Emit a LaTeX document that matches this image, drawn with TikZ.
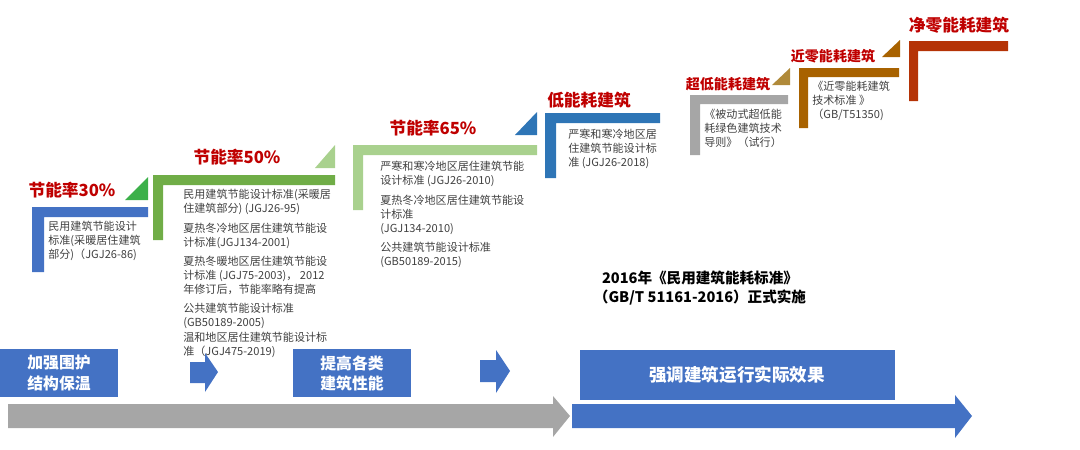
\documentclass[tikz,border=0pt]{standalone}
\usepackage{fontspec}
\setmainfont{Noto Sans CJK SC}
\begin{document}
\begin{tikzpicture}[x=0.02cm,y=-0.02cm,
  head/.style={text=red!75!black,font=\fontsize{9.5}{11}\selectfont\bfseries,inner sep=0},
  shead/.style={head,font=\fontsize{8}{10}\selectfont\bfseries},
  body/.style={text=black!75,font=\fontsize{6.3}{8}\selectfont,align=left,anchor=north west,inner sep=0},
  bbox/.style={fill=bl,text=white,font=\fontsize{9}{11.5}\selectfont\bfseries,align=center,inner sep=0}]
\useasboundingbox (0,0) rectangle (1080,450);
\definecolor{bl}{HTML}{4472C4}
\definecolor{bl2}{HTML}{2E75B6}
\definecolor{gr}{HTML}{70AD47}
\definecolor{lg}{HTML}{A9D18E}
\definecolor{dg}{HTML}{3CB04A}
\definecolor{gy}{HTML}{A6A6A6}
\definecolor{gd}{HTML}{B08A3A}
\definecolor{br}{HTML}{A86200}
\definecolor{rd}{HTML}{B53306}
% L shapes
\fill[bl] (32,207) rectangle (148,217) (32,207) rectangle (44,272);
\fill[dg] (125,200) -- (148,200) -- (148,177) -- cycle;
\fill[gr] (153,175) rectangle (335,185) (153,175) rectangle (163,240);
\fill[lg] (315,168) -- (335,168) -- (335,145) -- cycle;
\fill[lg] (353,145) rectangle (537,155) (353,145) rectangle (363,210);
\fill[bl2] (515,135) -- (537,135) -- (537,112) -- cycle;
\fill[bl2] (545,113) rectangle (660,123) (545,113) rectangle (556,178);
\fill[gy] (690,95) rectangle (788,104) (690,95) rectangle (700,155);
\fill[gd] (772,85) -- (790,85) -- (790,68) -- cycle;
\fill[br] (799,68) rectangle (899,77) (799,68) rectangle (808,128);
\fill[br] (882,57) -- (900,57) -- (900,40) -- cycle;
\fill[rd] (909,41) rectangle (1008,51) (909,41) rectangle (918,101);
% headings
\node[head] (h1) at (72,190) {节能率30\%};
\node[head] (h2) at (237,157) {节能率50\%};
\node[head] (h3) at (433,128) {节能率65\%};
\node[head] (h4) at (589,100) {低能耗建筑};
\node[shead] (h5) at (728,84) {超低能耗建筑};
\node[shead] (h6) at (833,56) {近零能耗建筑};
\node[head] (h7) at (959,25) {净零能耗建筑};
% bodies
\node[body] (t1) at (48,221) {民用建筑节能设计\\标准(采暖居住建筑\\部分)（JGJ26-86)};
\node[body] (t2) at (183,189) {民用建筑节能设计标准(采暖居\\住建筑部分) (JGJ26-95)\\[3pt]夏热冬冷地区居住建筑节能设\\计标准(JGJ134-2001)\\[3pt]夏热冬暖地区居住建筑节能设\\计标准 (JGJ75-2003)， 2012\\年修订后，节能率略有提高\\[3pt]公共建筑节能设计标准\\(GB50189-2005)\\温和地区居住建筑节能设计标\\准（JGJ475-2019)};
\node[body] (t3) at (380,161) {严寒和寒冷地区居住建筑节能\\设计标准 (JGJ26-2010)\\[3pt]夏热冬冷地区居住建筑节能设\\计标准\\ (JGJ134-2010)\\[3pt]公共建筑节能设计标准\\(GB50189-2015)};
\node[body] (t4) at (568,129) {严寒和寒冷地区居\\住建筑节能设计标\\准 (JGJ26-2018)};
\node[body] (t5) at (704,109) {《被动式超低能\\耗绿色建筑技术\\导则》（试行）};
\node[body] (t6) at (812,81) {《近零能耗建筑\\技术标准 》\\（GB/T51350)};
\node[font=\fontsize{8.3}{10.5}\selectfont\bfseries,align=center,inner sep=0] (t7) at (700,288) {2016年《民用建筑能耗标准》\\（GB/T 51161-2016）正式实施};
% bottom
\node[bbox,minimum width=118*0.02cm,minimum height=48*0.02cm] (b1) at (59,373) {加强围护\\结构保温};
\node[bbox,minimum width=118*0.02cm,minimum height=48*0.02cm] (b2) at (352,373) {提高各类\\建筑性能};
\node[bbox,font=\fontsize{10}{12}\selectfont\bfseries,minimum width=315*0.02cm,minimum height=50*0.02cm] (b3) at (737,375) {强调建筑运行实际效果};
\fill[bl] (190,362) -- (205,362) -- (205,353) -- (218,372) -- (205,392) -- (205,383) -- (190,383) -- cycle;
\fill[bl] (480,360) -- (496,360) -- (496,350) -- (510,371) -- (496,393) -- (496,382) -- (480,382) -- cycle;
\fill[gy] (8,404) -- (553,404) -- (553,396) -- (570,416) -- (553,437) -- (553,428) -- (8,428) -- cycle;
\fill[bl] (572,404) -- (955,404) -- (955,395) -- (972,416) -- (955,438) -- (955,428) -- (572,428) -- cycle;
\end{tikzpicture}
\end{document}
